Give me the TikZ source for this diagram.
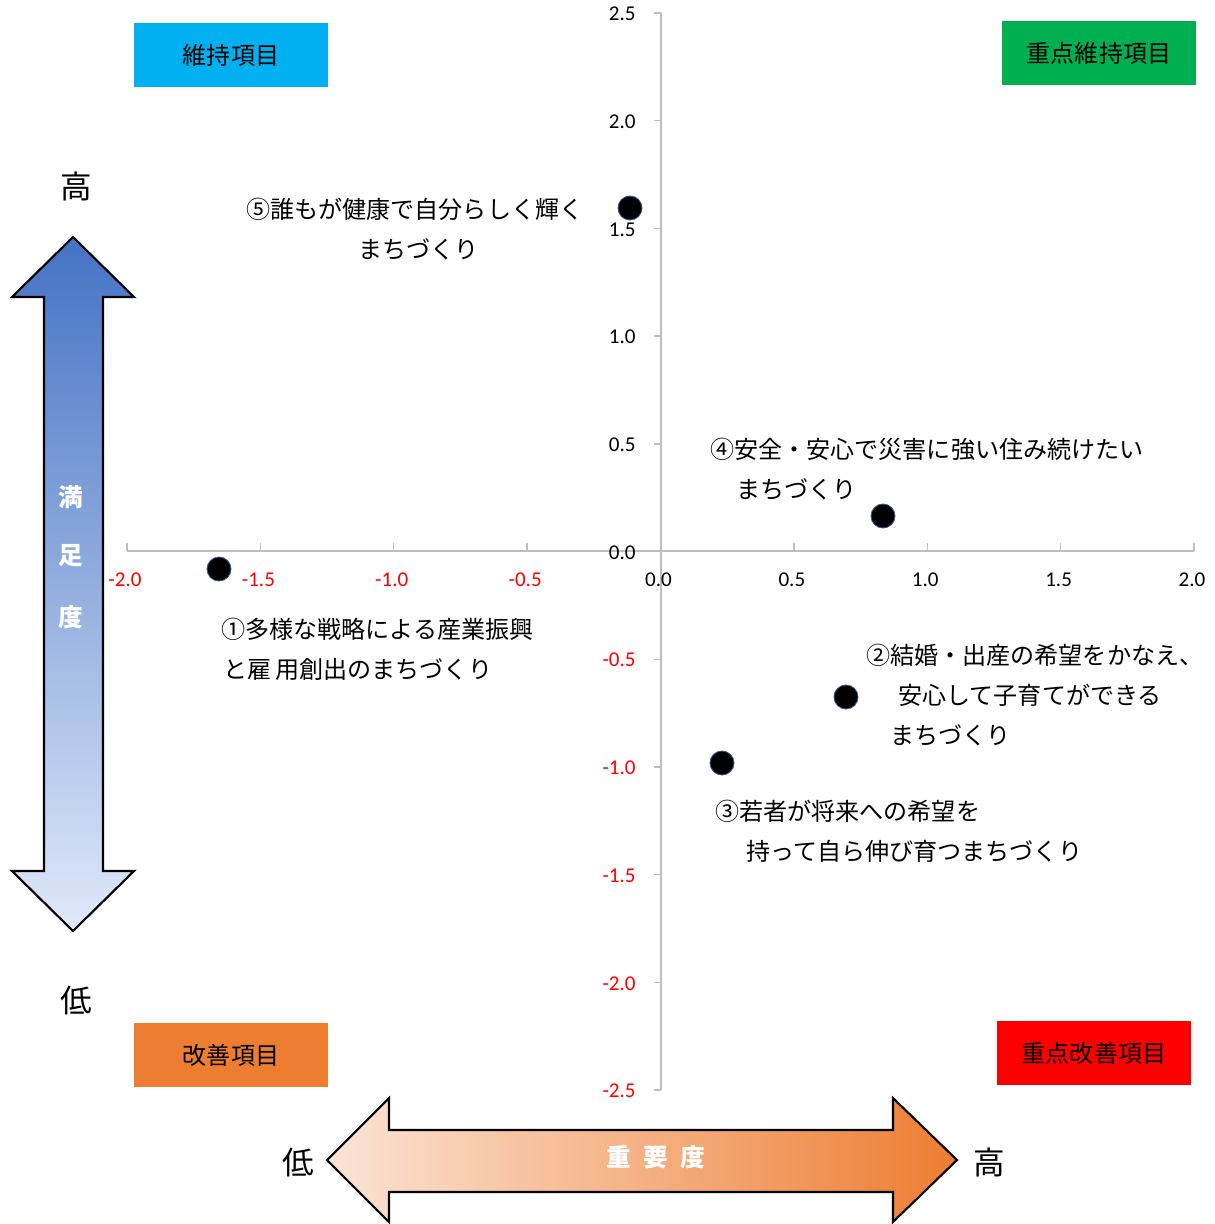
\documentclass[tikz,border=0pt]{standalone}
\usepackage{fontspec}
\setmainfont{Carlito}
\newfontfamily\jp{Noto Sans CJK JP}
\usetikzlibrary{positioning}
\definecolor{axgray}{RGB}{190,190,190}
\definecolor{qcyan}{RGB}{0,176,240}
\definecolor{qgreen}{RGB}{0,176,80}
\definecolor{qorange}{RGB}{237,125,49}
\definecolor{qred}{RGB}{255,0,0}
\definecolor{bdark}{RGB}{68,114,196}
\definecolor{blight}{RGB}{224,233,250}
\definecolor{olight}{RGB}{252,228,214}
\definecolor{dotrim}{RGB}{47,85,151}

\begin{document}
\begin{tikzpicture}[x=0.02cm,y=-0.02cm,
    dot/.style={circle,fill=black,draw=dotrim,line width=0.5pt,minimum size=0.48cm,inner sep=0},
    lbl/.style={anchor=west,inner sep=0,font=\jp\fontsize{13.7}{16}\selectfont},
    quad/.style={minimum width=3.88cm,minimum height=1.28cm,inner sep=0,font=\jp\fontsize{13.7}{16}\selectfont},
    tick/.style={font=\fontsize{12}{14}\selectfont,inner sep=0},
    big/.style={font=\jp\fontsize{18}{20}\selectfont,inner sep=0},
    wht/.style={text=white,font=\jp\bfseries\fontsize{14}{16}\selectfont,inner sep=0}]
    \useasboundingbox (0,0) rectangle (1214,1224);

    % axes
    \draw[axgray,line width=0.8pt] (127,551) -- (1194,551);
    \draw[axgray,line width=0.8pt] (661,13) -- (661,1090);
    \foreach \v/\t/\c in {-2/-2.0/red,-1.5/-1.5/red,-1/-1.0/red,-0.5/-0.5/red,0/0.0/black,0.5/0.5/black,1/1.0/black,1.5/1.5/black,2/2.0/black}{
        \draw[axgray,line width=0.8pt] ({660.5+\v*266.75},551) -- ++(0,-8);
        \node[tick,text=\c] at ({658.5+\v*266.75},580) {\t};
    }
    \foreach \v/\t/\c in {2.5/2.5/black,2/2.0/black,1.5/1.5/black,1/1.0/black,0.5/0.5/black,0/0.0/black,-0.5/-0.5/red,-1/-1.0/red,-1.5/-1.5/red,-2/-2.0/red,-2.5/-2.5/red}{
        \draw[axgray,line width=0.8pt] (661,{551.5-\v*215.4}) -- ++(-7,0);
        \node[tick,text=\c,anchor=east] at (636,{552.5-\v*215.4}) {\t};
    }

    % quadrant boxes
    \node[quad,fill=qcyan] (ul) at (231,55) {維持項目};
    \node[quad,fill=qgreen] (ur) at (1099,53) {重点維持項目};
    \node[quad,fill=qorange] (ll) at (231,1055) {改善項目};
    \node[quad,fill=qred] (lr) at (1094,1053) {重点改善項目};

    % data
    \node[dot] (p1) at (219,569) {};
    \node[dot] (p2) at (846,697) {};
    \node[dot] (p3) at (722,763) {};
    \node[dot] (p4) at (883,516) {};
    \node[dot] (p5) at (630,208) {};

    \node[lbl] (t5a) at (246,209) {⑤誰もが健康で自分らしく輝く};
    \node[lbl] (t5b) at (358,249) {まちづくり};
    \node[lbl] (t4a) at (710,449) {④安全・安心で災害に強い住み続けたい};
    \node[lbl] (t4b) at (736,489) {まちづくり};
    \node[lbl] (t1a) at (221,629) {①多様な戦略による産業振興};
    \node[lbl] (t1b) at (223,669) {と雇\,用創出のまちづくり};
    \node[lbl] (t2a) at (866,655) {②結婚・出産の希望をかなえ、};
    \node[lbl] (t2b) at (898,695) {安心して子育てができる};
    \node[lbl] (t2c) at (890,735) {まちづくり};
    \node[lbl] (t3a) at (715,811) {③若者が将来への希望を};
    \node[lbl] (t3b) at (746,851) {持って自ら伸び育つまちづくり};

    % satisfaction arrow
    \draw[line width=1.2pt,line join=miter,top color=bdark,bottom color=blight]
        (73,237) -- (134,297) -- (103,297) -- (103,871) -- (134,871) -- (73,931)
        -- (12,871) -- (44,871) -- (44,297) -- (12,297) -- cycle;
    \node[big] (hi1) at (76,186) {高};
    \node[big] (lo1) at (76,1000) {低};
    \node[wht] (s1) at (71,497) {満};
    \node[wht] (s2) [below=0.7cm of s1] {足};
    \node[wht] (s3) [below=0.76cm of s2] {度};

    % importance arrow
    \draw[line width=1.2pt,line join=miter,left color=olight,right color=qorange]
        (327,1160) -- (389,1098) -- (389,1130) -- (893,1130) -- (893,1098) -- (957,1160)
        -- (893,1222) -- (893,1192) -- (389,1192) -- (389,1222) -- cycle;
    \node[big] (lo2) at (298,1162) {低};
    \node[big] (hi2) at (989,1162) {高};
    \node[wht] (imp) at (656,1157) {重\hspace{0.5em}要\hspace{0.5em}度};
\end{tikzpicture}
\end{document}
